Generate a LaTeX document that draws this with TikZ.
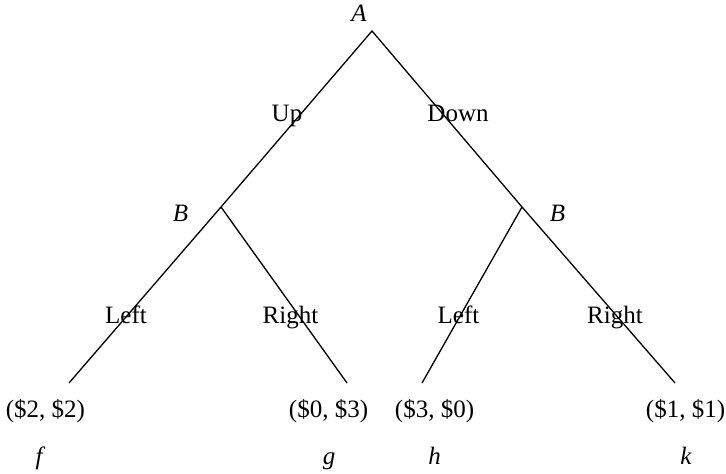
\documentclass[tikz,border=0pt]{standalone}
\usepackage{fontspec}
\setmainfont{Liberation Serif}
\usetikzlibrary{positioning}
\tikzset{
  br/.style={draw, line width=0.65pt},
  lbl/.style={anchor=base, inner sep=0pt, font=\fontsize{12.5}{15}\selectfont},
  plr/.style={lbl, font=\fontsize{12.5}{15}\selectfont\itshape}}

\begin{document}
\begin{tikzpicture}[x=0.5pt, y=-0.5pt]
\useasboundingbox (0,0) rectangle (726,474);
% decision points and leaves
\coordinate (a) at (372,31);
\coordinate (bl) at (221,207);
\coordinate (br) at (522,207);
\coordinate (lf) at (69,383);
\coordinate (lg) at (347,383);
\coordinate (lh) at (422,383);
\coordinate (lk) at (675,383);
\draw[br] (lf) -- (bl) -- (a) -- (br) -- (lk);
\draw[br] (bl) -- (lg);
\draw[br] (br) -- (lh);
% players
\node[plr] (pa) at (359,21.5) {A};
\node[plr] (pbl) at (180.5,221.5) {B};
\node[plr] (pbr) at (557.5,221.5) {B};
% moves
\node[lbl] (up) at (287,121.5) {Up};
\node[lbl] (dn) at (458,121.5) {Down};
\node[lbl] (ml1) at (126,323.5) {Left};
\node[lbl] (mr1) at (290.5,323.5) {Right};
\node[lbl] (ml2) at (458.5,323.5) {Left};
\node[lbl] (mr2) at (615,323.5) {Right};
% payoffs
\node[lbl] (pf) at (45.5,417.5) {(\$2, \$2)};
\node[lbl] (pg) at (328.5,417.5) {(\$0, \$3)};
\node[lbl] (ph) at (434.5,417.5) {(\$3, \$0)};
\node[lbl] (pk) at (685.5,417.5) {(\$1, \$1)};
\node[plr] (nf) at (39,464) {f};
\node[plr] (ng) at (329,464) {g};
\node[plr] (nh) at (434.5,464) {h};
\node[plr] (nk) at (686,464) {k};
\end{tikzpicture}
\end{document}
